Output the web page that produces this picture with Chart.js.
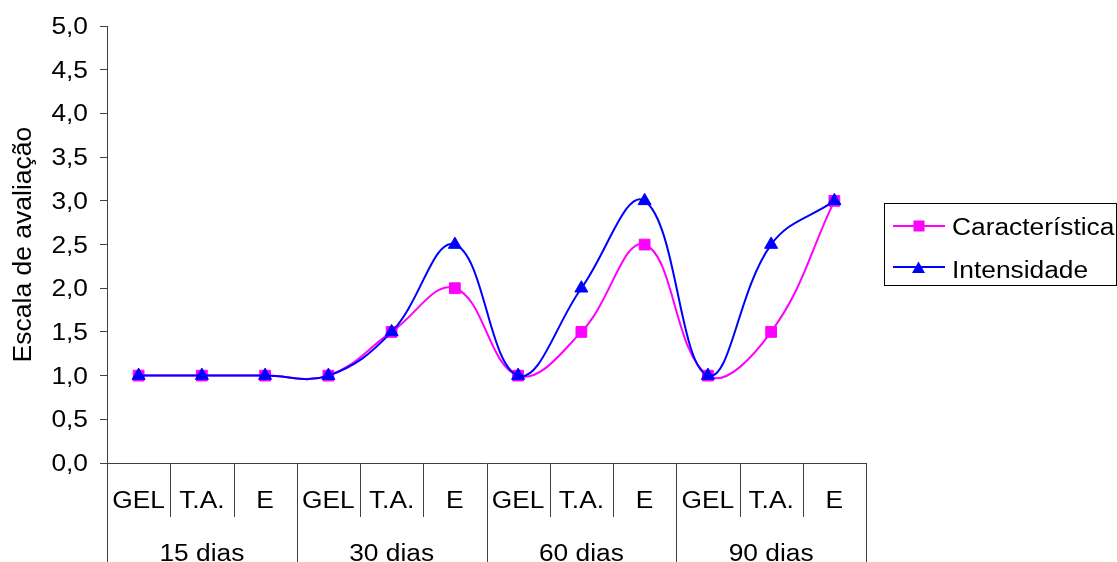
<!DOCTYPE html>
<html>
<head>
<meta charset="utf-8">
<script src="https://cdn.jsdelivr.net/npm/chart.js@4/dist/chart.umd.min.js"></script>
<style>
  html, body { margin: 0; padding: 0; background: #ffffff; }
  #wrap { width: 1117px; height: 562px; position: relative; }
</style>
</head>
<body>
<div id="wrap"><canvas id="c" width="1117" height="562"></canvas></div>
<script>
// ---- data ----
const categories = ['GEL', 'T.A.', 'E', 'GEL', 'T.A.', 'E', 'GEL', 'T.A.', 'E', 'GEL', 'T.A.', 'E'];
const groupLabels = ['15 dias', '30 dias', '60 dias', '90 dias'];
const seriesNames = ['Característica', 'Intensidade'];
const caracteristica = [1, 1, 1, 1, 1.5, 2, 1, 1.5, 2.5, 1, 1.5, 3];
const intensidade = [1, 1, 1, 1, 1.5, 2.5, 1, 2, 3, 1, 2.5, 3];
const yTickValues = [0, 0.5, 1, 1.5, 2, 2.5, 3, 3.5, 4, 4.5, 5];
const yTitle = 'Escala de avaliação';

// ---- style ----
const FONT = '"Liberation Sans", Arial, sans-serif';
const AXIS = '#404040';
const PINK = '#FF00FF';
const BLUE = '#0000FF';
const SX = 1.12; // slight horizontal widening of (non-rotated) text, as in the original

const canvas = document.getElementById('c');
const ctx = canvas.getContext('2d');
const origFill = ctx.fillText.bind(ctx);
ctx.fillText = function (text, x, y, maxWidth) {
  const m = ctx.getTransform();
  if (Math.abs(m.b) > 1e-6 || Math.abs(m.c) > 1e-6) {
    return maxWidth === undefined ? origFill(text, x, y) : origFill(text, x, y, maxWidth);
  }
  ctx.save();
  ctx.translate(x, y);
  ctx.scale(SX, 1);
  if (maxWidth === undefined) origFill(text, 0, 0); else origFill(text, 0, 0, maxWidth / SX);
  ctx.restore();
};

const categoryAxisPlugin = {
  id: 'categoryAxis',
  afterDraw(chart) {
    const c = chart.ctx;
    const xs = chart.scales.x;
    const area = chart.chartArea;
    const n = categories.length;
    const w = xs.getPixelForValue(1) - xs.getPixelForValue(0);
    const bottom = area.bottom;
    c.save();
    c.strokeStyle = AXIS;
    c.lineWidth = 1;
    c.beginPath();
    c.moveTo(area.left, Math.round(bottom) + 0.5);
    c.lineTo(area.right, Math.round(bottom) + 0.5);
    c.stroke();
    for (let i = 0; i <= n; i++) {
      const bx = (i < n ? xs.getPixelForValue(i) - w / 2 : xs.getPixelForValue(n - 1) + w / 2);
      const px = Math.round(bx) + 0.5;
      const end = (i % 3 === 0) ? chart.height : bottom + 54;
      c.beginPath();
      c.moveTo(px, bottom);
      c.lineTo(px, end);
      c.stroke();
    }
    c.fillStyle = '#000';
    c.font = '23.5px ' + FONT;
    c.textAlign = 'center';
    c.textBaseline = 'alphabetic';
    for (let i = 0; i < n; i++) {
      c.fillText(categories[i], xs.getPixelForValue(i), bottom + 44.5);
    }
    for (let g = 0; g < groupLabels.length; g++) {
      const cx = xs.getPixelForValue(g * 3 + 1);
      c.fillText(groupLabels[g], cx, bottom + 98);
    }
    c.restore();
  }
};

const boxLegendPlugin = {
  id: 'boxLegend',
  afterDraw(chart) {
    const c = chart.ctx;
    c.save();
    c.strokeStyle = '#000';
    c.lineWidth = 1;
    c.strokeRect(884.5, 203.5, 232, 82);
    const rows = [
      { name: seriesNames[0], color: PINK, y: 226, style: 'rect', base: 234.5 },
      { name: seriesNames[1], color: BLUE, y: 267, style: 'triangle', base: 278 }
    ];
    rows.forEach(r => {
      c.strokeStyle = r.color;
      c.fillStyle = r.color;
      c.lineWidth = 2;
      c.beginPath();
      c.moveTo(893, r.y);
      c.lineTo(945, r.y);
      c.stroke();
      if (r.style === 'rect') {
        c.fillRect(919 - 5.5, r.y - 5.5, 11, 11);
      } else {
        c.beginPath();
        c.moveTo(918.5, r.y - 5.5);
        c.lineTo(925, r.y + 6);
        c.lineTo(912, r.y + 6);
        c.closePath();
        c.fill();
      }
      c.fillStyle = '#000';
      c.font = '23.5px ' + FONT;
      c.textAlign = 'left';
      c.textBaseline = 'alphabetic';
      c.fillText(r.name, 952, r.base);
    });
    c.restore();
  }
};

new Chart(ctx, {
  type: 'line',
  data: {
    labels: categories,
    datasets: [
      {
        label: seriesNames[0],
        data: caracteristica,
        borderColor: PINK,
        backgroundColor: PINK,
        borderWidth: 2,
        tension: 0.4,
        pointStyle: 'rect',
        pointRadius: 7.6,
        pointBorderWidth: 1,
        pointBackgroundColor: PINK,
        pointBorderColor: PINK,
        fill: false,
        order: 1
      },
      {
        label: seriesNames[1],
        data: intensidade,
        borderColor: BLUE,
        backgroundColor: BLUE,
        borderWidth: 2,
        tension: 0.4,
        pointStyle: 'triangle',
        pointRadius: 7.5,
        pointBorderWidth: 1,
        pointBackgroundColor: BLUE,
        pointBorderColor: BLUE,
        fill: false,
        order: 0
      }
    ]
  },
  options: {
    responsive: false,
    animation: false,
    events: [],
    layout: { padding: { top: 24, bottom: 99, left: 0, right: 251 } },
    plugins: {
      legend: { display: false },
      tooltip: { enabled: false }
    },
    scales: {
      x: {
        type: 'category',
        display: false,
        offset: true
      },
      y: {
        min: 0,
        max: 5,
        afterFit(scale) { scale.width = 107; },
        afterBuildTicks(scale) { scale.ticks = yTickValues.map(v => ({ value: v })); },
        ticks: {
          stepSize: 0.5,
          color: '#000',
          font: { size: 23.5, family: FONT },
          padding: 12,
          labelOffset: 1.5,
          callback: v => Number(v).toFixed(1).replace('.', ',')
        },
        grid: { drawOnChartArea: false, drawTicks: true, tickLength: 7, color: AXIS, lineWidth: 1 },
        border: { color: AXIS, width: 1 },
        title: {
          display: true,
          text: yTitle,
          color: '#000',
          font: { size: 26.5, family: FONT },
          padding: { top: 8, bottom: 0 }
        }
      }
    }
  },
  plugins: [categoryAxisPlugin, boxLegendPlugin]
});
</script>
</body>
</html>
